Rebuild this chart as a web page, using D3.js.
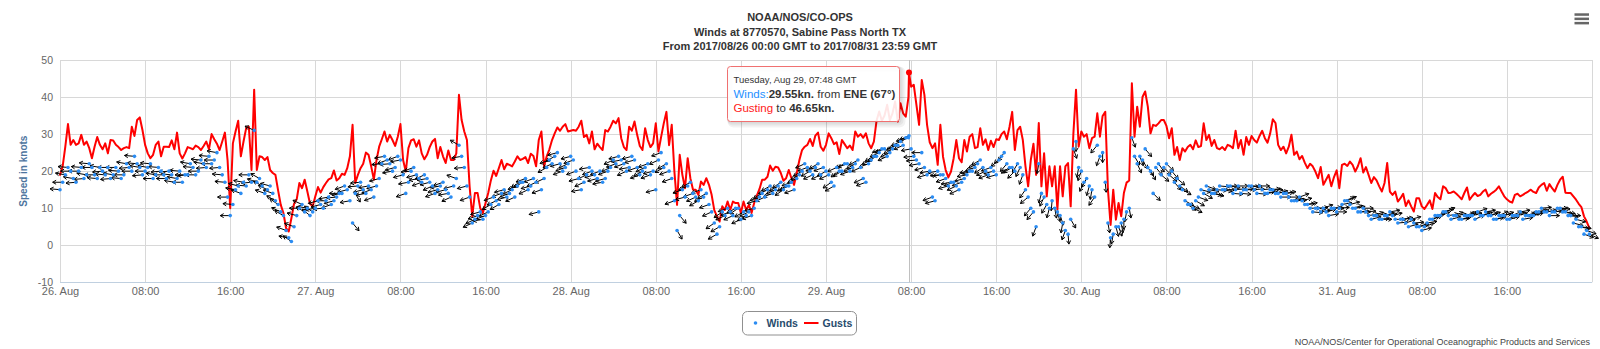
<!DOCTYPE html>
<html>
<head>
<meta charset="utf-8">
<script src="https://cdn.jsdelivr.net/npm/d3@7"></script>
<style>
  html, body { margin: 0; padding: 0; background: #fff; }
  svg { display: block; font-family: "Liberation Sans", Arial, Helvetica, sans-serif; }
</style>
</head>
<body>
<svg id="chart" width="1600" height="349"></svg>
<script>
// ---- chart text ----
const titleLines = [
  "NOAA/NOS/CO-OPS",
  "Winds at 8770570, Sabine Pass North TX",
  "From 2017/08/26 00:00 GMT to 2017/08/31 23:59 GMT"
];
const yAxisTitle = "Speed in knots";
const creditText = "NOAA/NOS/Center for Operational Oceanographic Products and Services";
const legendNames = ["Winds", "Gusts"];
const yTicks = [-10, 0, 10, 20, 30, 40, 50];

// ---- observations from 2017-08-26 00:00 GMT ----
const startTime = Date.UTC(2017, 7, 26, 0, 0);
const endTime = Date.UTC(2017, 8, 1, 0, 0);

// gust speed (knots), every 15 minutes
const gustKnots = [
  19,21.3,26.6,32.7,27.1,28.4,27.1,27.5,29.8,27.1, 28,26.2,23.5,26.6,29.2,27.1,25.9,27.5,24.8,28.4,
  28.3,27.1,26.5,25.7,26.2,26.5,26.2,32,29.5,33.8, 34.5,31.1,27.1,24.8,23.5,24.4,27.1,28,24,26.6,
  26.6,26.5,28.3,25.9,30.4,24.8,23.4,24.8,26.5,26.2, 25.9,26.9,26.5,25.7,26.8,28,25.9,30,28.6,27.4,
  25.7,28,30.4,23,10,27.5,30.7,33.6,24,28, 31.6,32,20.3,42,20.3,24,23.8,23,23.8,20.3,
  19.5,19,14.8,10.9,8.7,4.6,3.7,7.3,11.2,12.4, 16.8,15.4,17.7,14.5,11.2,10.5,13.2,15.7,14.2,15.7,
  16.8,17.8,18.1,20.2,17.5,18.1,19.3,19,20.8,24, 32.5,16.8,19,20.8,22,
  25,24.4,21.3,17.7,23,26.6,28.6,30.7,28,29.8, 28.4,26.8,29.3,32.7,23,19.9,26.2,28.3,28.6,26.6,
  28.3,24.8,23.2,24.4,26.5,28,28.7,23.5,26.5,24, 22.2,25.6,23,23,24.8,40.6,33.8,30.7,28.4,15.9,
  7.8,14.1,14.1,10,8.7,11.4,14.1,17.5,20.1,18.7, 20.8,23,20.5,22,21.7,21.3,22.6,24,23,23.3,
  23.8,22.2,24.7,24.1,21.3,28.4,30.7,21.3,24,25.9, 28.4,30.2,31.8,30.9,32,32.7,30.7,30.9,31.1,30.9,
  32,33.6,29.2,29.8,27.5,30.7,25.9,27.4,26.5,25.7, 31.1,30.7,32,33.6,32.9,34.3,28.9,26.5,25.7,32,
  30.9,33.4,29.8,26.8,25.7,31.6,28.4,26.5,27.5,32.9, 25.3,29.2,32.9,36,27,
  32.5,19.9,10.9,24.4,19,15.4,23.5,18.1,15,15, 13.6,17.2,16.3,18.1,16.3,13.6,9.5,7.8,6.4,10.5,
  9.5,11.8,9.5,11.8,11.4,11.4,8.7,11.8,9.5,10.9, 8.7,11.4,13.4,15.2,17.7,17.7,18.5,21.5,20.1,21.2,
  21,19.5,17.4,18.1,20.3,18.1,16.3,19.5,23,25.7, 26.6,27.1,28.7,26.8,29.6,30.4,26.6,25.5,27.1,30.2,
  28.9,27.3,27.8,24.6,28.4,27.3,26.2,26.9,25.7,30.7, 29.3,30,29,30.2,27.5,26.2,28,33.6,36.1,33.6,
  35,37.9,33.8,35.6,38.8,33.4,38.3,35.6,34.7,40, 42.8,43.3,37.9,32.5,44.6,40.6,32.5,27.8,26.2,27.5,
  21.7,32.5,23.9,20.3,18.3,19.9,23.5,28.4,23.5,22.4, 28.4,25.3,29.3,30,
  26.2,26.5,31.6,27.1,28.6,25.7,28.2,26.5,28.6,28.4, 30,30.7,28.6,32,36,25.7,31.1,32,28.4,21.3,
  15.9,23,27.4,19,33,15.9,24.8,13.2,21.3,15.9, 21.3,9.6,21.3,13.2,21.3,22.2,10.5,30,42,26.6,
  30.7,29.3,30,26.2,28.9,29.3,35.6,29.3,34.9,36, 15,5.5,15,6.9,11.4,7.8,14.1,16.9,17.5,43.7,
  29.3,37.4,32,40,41.5,37.4,30.2,32.5,32.2,32.9, 33.8,33.8,32.2,28.9,31.6,24.4,26.5,23,26.2,25.3,
  26.5,27.1,25.9,28.3,26.5,26.8,32.9,28.4,29.8,26.8, 28.4,26.2,25.9,26.5,25.7,27.1,26.8,26.2,30.9,26.2,
  28.4,24.4,29.2,27.1,29.5,28.4,27.7,29.5,30.9,28.9, 27.7,30.2,34,33,
  27.1,25.7,26.6,24.8,26.6,29.8,24.4,25.3,23.2,24.1, 22.3,20.8,22,21.3,19.9,18.1,21.1,16.3,17.7,19,
  15.9,18.4,20.2,15.4,21.7,22,21.4,22.6,21.7,19.9, 21.4,23.5,19.6,21.1,19,16.8,18.4,17.5,15.9,14.5,
  16.8,22.2,14.5,13.6,14.5,11.8,12.7,13.9,10.6,12.1, 10.5,9.1,12.7,12.7,10.5,9.8,10.9,12.1,9.8,14.1,
  13,12.4,15.9,15.4,14.1,14.2,14.5,13.9,13.2,12.4, 14.1,15.6,12.3,13.3,14.1,13.3,13.6,14.5,15,13.2,
  13.9,14.4,15,15.9,14.5,13.2,12.4,11.8,11.5,13.6, 13.9,13.2,13.6,14.1,14.5,15,14.4,14.1,15.6,16.3,
  16.8,14.7,16.5,15.4,14.5,16.3,17.7,18.5,14.2,14.1, 14.1,13.2,12.3,11.2,10.3,7.8,6.4,4.6
];

// sustained wind (knots) on the hour and half hour
const windKnots = [
  15,19,20,17,21,19,21,18,20,21, 19,20,19,21,24,21,20,22,19,20, 18,19,18,17,19,21,20,22,24,23,
  21,17,8,15,14,16,17,17,16,15, 14,11,8,2,5,10,9,8,10,11, 12,11,13,14,15,6,16,15,
  16,13,18,24,22,21,23,14,20,19, 17,18,16,15,17,14,16,27,21,13, 7,9,8,11,12,14,13,15,16,17,
  15,18,9,18,23,24,22,21,24,20, 15,19,20,18,17,20,23,24,22,21, 23,19,21,19,15,25,22,
  18,4,15,16,14,12,13,11,6,5, 8,9,10,7,8,8,12,14,15,14, 16,15,16,15,19,22,20,21,19,20,
  17,21,20,22,21,23,18,22,24,25, 26,25,27,28,29,26,23,25,19,13, 20,19,16,17,15,18,20,21,
  23,20,21,19,24,22,21,22,19,13, 9,22,13,10,10,8,4,7,28,20, 18,15,27,25,6,3,5,7,10,24,
  24,26,20,21,19,22,20,18,15,11, 10,13,14,15,14,16,15,16,15,14, 15,16,14,15,14,15,14,
  14,13,12,13,11,10,10,9,9,10, 9,11,12,10,9,10,8,8,7,8, 9,7,7,6,7,5,4,6,7,8,
  9,8,8,7,8,8,7,8,9,8, 7,8,7,8,8,7,8,8,9,9, 8,9,10,9,8,7,5,4
];

// sustained wind (knots) at quarter past and quarter to
const windKnotsQuarter = [
  17,21,18,20,18,22,19,21,19,18, 21,18,22,20,22,19,21,18,21,19, 20,17,20,19,22,19,23,21,22,25,
  19,13,11,16,17,19,31,18,14,16, 12,9,4,1,8,11,10,9,12,10, 13,12,14,16,12,14,17,14,
  15,16,22,23,20,24,19,17,21, 18,19,17,14,16,15,13,18,24,16, 6,8,7,9,13,11,15,14,13,17,
  18,16,17,15,21,22,25,20,22,23, 18,17,21,19,20,18,21,22,23,20, 24,21,20,22,20,23,21,
  20,12,8,13,17,13,15,14,9,3, 9,10,8,10,9,9,10,13,13,16, 15,17,16,17,18,20,21,19,22,21,
  19,16,20,22,20,22,21,17,23,24, 26,24,26,27,27,29,24,22,21,20, 12,19,18,17,16,17,19,20,
  22,21,19,20,23,25,21,20,21,15, 10,5,14,11,12,9,6,3,26,21, 17,16,13,24,17,2,5,6,9,29,
  22,23,21,14,22,21,19,17,16,12, 11,12,15,16,14,15,15,16,14,16, 15,16,15,16,14,15,14,
  13,14,12,12,12,11,9,10,10,8, 10,10,12,11,10,9,9,7,8,7, 8,8,6,7,5,6,5,5,7,8,
  8,9,7,8,7,8,8,9,8,8, 7,8,8,7,8,9,8,8,9,10, 9,9,10,9,8,6,5,3,3
];

// direction the wind blows from (degrees true), on the hour and half hour
const windFromDeg = [
  95,100,90,85,95,100,90,95,85,90,100,95,90,85,95,100,90,95,100,85,90,95,100,90,85,95,90,100,95,90,85,95,
  90,100,110,95,85,110,120,115,110,125,120,100,110,90,120,130,
  80,75,90,70,85,80,75,320,85,75,80,70,75,80,85,75,
  80,70,85,75,70,80,65,75,70,80,75,120,85,70,65,75,70,60,65,70,75,65,70,60,65,70,75,65,70,60,75,70,
  75,70,80,65,70,75,80,70,65,75,70,80,75,70,65,70,75,70,60,70,330,70,65,70,60,65,70,55,60,65,70,60,
  65,60,70,75,60,65,70,60,55,65,70,60,65,60,70,65,60,55,65,60,70,65,60,65,70,60,65,70,65,60,65,70,
  80,85,90,75,70,80,85,75,70,65,75,80,70,60,65,70,75,45,40,60,30,20,50,40,10,25,15,350,340,20,330,0,
  20,30,10,40,0,350,10,340,0,350,330,340,320,330,320,310,315,320,310,300,305,295,290,300,280,285,275,270,280,265,275,270,
  270,275,265,260,270,255,265,270,260,250,265,270,275,260,255,265,270,260,245,255,265,270,260,250,265,255,260,270,265,250,255,260,
  255,260,250,245,255,260,250,265,255,250,245,255,260,250,255,260,250,245,255,260,250,255,260,265,270,260,275,280,270,285,280,290
];

// direction the wind blows from (degrees true), at quarter past and quarter to
const windFromDegQuarter = [
  90,95,100,90,85,95,90,100,95,85,90,95,100,90,95,85,100,90,95,90,85,100,95,90,100,90,95,85,90,100,95,90,
  95,105,100,90,115,120,110,105,120,115,110,125,105,115,100,125,
  75,85,80,75,90,70,80,330,85,80,70,75,85,70,80,70,
  75,80,70,80,65,75,70,80,75,65,110,80,75,65,70,80,65,70,60,75,70,65,60,70,75,65,70,60,65,75,70,65,
  70,75,65,80,75,70,75,65,70,80,65,75,70,60,70,75,65,60,70,70,320,75,60,65,70,60,65,60,55,70,65,55,
  60,65,75,70,65,60,65,55,60,70,65,60,70,65,60,70,65,60,55,65,70,60,65,70,65,60,70,65,60,70,65,68,
  85,80,75,80,75,85,70,80,65,70,80,75,65,55,70,75,50,35,55,45,25,35,40,20,15,30,5,345,10,355,340,10,
  25,15,35,20,355,5,345,350,10,340,335,330,325,315,325,315,310,320,305,300,295,300,285,290,280,275,280,270,275,270,265,275,
  265,270,260,265,260,270,260,255,265,255,260,275,265,250,260,270,265,250,255,260,270,265,255,260,270,260,255,265,260,255,265,255,
  250,255,260,250,245,255,260,255,250,255,250,250,255,260,245,250,255,250,260,255,255,260,265,260,265,270,280,275,285,280,290,295
];

// the observation shown in the tooltip
const hoverTime = Date.UTC(2017, 7, 29, 7, 48);
const hoverWind = 29.55;
const hoverGust = 46.65;
const hoverDir = 67;
const hoverCompass = "ENE";

// ---- colours ----
const gustColor = "#ff0000";
const windColor = "#2b8cf2";
const gridColor = "#d8d8d8";

// ---- build the time series (15-minute steps) ----
const obs = gustKnots.map((g, j) => {
  const even = j % 2 === 0, i = even ? j / 2 : (j - 1) / 2;
  return {
    t: new Date(startTime + j * 15 * 60000),
    gust: g,
    wind: even ? windKnots[i] : windKnotsQuarter[i],
    dir: even ? windFromDeg[i] : windFromDegQuarter[i]
  };
});
obs.push({ t: new Date(hoverTime), gust: hoverGust, wind: hoverWind, dir: hoverDir });
obs.sort((a, b) => a.t - b.t);

const svg = d3.select("#chart");
const plot = { left: 60, right: 1592, top: 60, bottom: 282.3 };

const x = d3.scaleUtc().domain([new Date(startTime), new Date(endTime)]).range([plot.left, plot.right]);
const y = d3.scaleLinear().domain([-10, 50]).range([plot.bottom, plot.top]);

// ---- title ----
svg.append("g").selectAll("text").data(titleLines).join("text")
  .attr("x", 800).attr("y", (d, i) => 21 + i * 14.5)
  .attr("text-anchor", "middle")
  .attr("font-size", 11).attr("font-weight", "bold").attr("fill", "#333")
  .text(d => d);

// ---- export menu icon ----
svg.append("g").selectAll("rect").data([0, 1, 2]).join("rect")
  .attr("x", 1574.5).attr("y", d => 13.3 + d * 4.3).attr("width", 14.5).attr("height", 2.5)
  .attr("fill", "#666");

// ---- grid ----
const hourTicks = x.ticks(d3.utcHour.every(8));
const grid = svg.append("g");
grid.selectAll("line.h").data(yTicks).join("line").attr("class", "h")
  .attr("x1", plot.left).attr("x2", plot.right)
  .attr("y1", d => Math.round(y(d)) + 0.5).attr("y2", d => Math.round(y(d)) + 0.5)
  .attr("stroke", gridColor).attr("stroke-width", 1);
grid.selectAll("line.v").data(hourTicks).join("line").attr("class", "v")
  .attr("x1", d => Math.round(x(d)) + 0.5).attr("x2", d => Math.round(x(d)) + 0.5)
  .attr("y1", plot.top).attr("y2", plot.bottom)
  .attr("stroke", gridColor).attr("stroke-width", 1);

// axis line along the bottom
svg.append("line")
  .attr("x1", plot.left).attr("x2", plot.right)
  .attr("y1", Math.round(plot.bottom) + 0.5).attr("y2", Math.round(plot.bottom) + 0.5)
  .attr("stroke", "#C0D0E0").attr("stroke-width", 1);

// ---- axes ----
const fmtDay = d3.utcFormat("%d. %b");
const fmtHour = d3.utcFormat("%H:%M");
const xAxis = d3.axisBottom(x)
  .tickValues(hourTicks.filter(d => +d < endTime))
  .tickSize(0).tickPadding(5)
  .tickFormat(d => d.getUTCHours() === 0 ? fmtDay(d) : fmtHour(d));
const gx = svg.append("g").attr("transform", `translate(0,${plot.bottom})`).call(xAxis);
gx.select(".domain").remove();
gx.selectAll("text").attr("font-size", 11).attr("fill", "#666").attr("font-family", null);

const yAxis = d3.axisLeft(y).tickValues(yTicks).tickSize(0).tickPadding(7).tickFormat(d => String(d));
const gy = svg.append("g").attr("transform", `translate(${plot.left},0)`).call(yAxis);
gy.select(".domain").remove();
gy.selectAll("text").attr("font-size", 10.5).attr("fill", "#666").attr("font-family", null);

svg.append("text")
  .attr("transform", `translate(23,${(plot.top + plot.bottom) / 2}) rotate(-90)`)
  .attr("text-anchor", "middle").attr("dy", "0.35em")
  .attr("font-size", 10).attr("font-weight", "bold").attr("fill", "#4d759e")
  .text(yAxisTitle);

// ---- crosshair at the hovered time ----
svg.append("line")
  .attr("x1", Math.round(x(new Date(hoverTime))) + 0.5).attr("x2", Math.round(x(new Date(hoverTime))) + 0.5)
  .attr("y1", plot.top).attr("y2", plot.bottom)
  .attr("stroke", "#c0c0c0").attr("stroke-width", 1);

// ---- gusts ----
const gustLine = d3.line().x(d => x(d.t)).y(d => y(d.gust));
svg.append("path").datum(obs)
  .attr("d", gustLine)
  .attr("fill", "none").attr("stroke", gustColor)
  .attr("stroke-width", 2).attr("stroke-linejoin", "round").attr("stroke-linecap", "round");

// ---- winds: arrow pointing where the wind goes, dot at the reading ----
const arrowLen = 10, headLen = 4, headAngle = 30 * Math.PI / 180;
function arrowPath(d) {
  const x0 = x(d.t), y0 = y(d.wind);
  const a = (d.dir + 180) * Math.PI / 180;
  const ux = Math.sin(a), uy = -Math.cos(a);
  const x1 = x0 + arrowLen * ux, y1 = y0 + arrowLen * uy;
  const back = Math.atan2(-uy, -ux);
  const hx1 = x1 + headLen * Math.cos(back + headAngle), hy1 = y1 + headLen * Math.sin(back + headAngle);
  const hx2 = x1 + headLen * Math.cos(back - headAngle), hy2 = y1 + headLen * Math.sin(back - headAngle);
  return `M${x0},${y0}L${x1},${y1}M${hx1},${hy1}L${x1},${y1}L${hx2},${hy2}`;
}
const winds = svg.append("g");
winds.selectAll("path").data(obs).join("path")
  .attr("d", arrowPath)
  .attr("fill", "none").attr("stroke", "#000").attr("stroke-width", 1);
winds.selectAll("circle").data(obs).join("circle")
  .attr("cx", d => x(d.t)).attr("cy", d => y(d.wind)).attr("r", 1.8)
  .attr("fill", windColor);

// hovered gust marker
svg.append("circle")
  .attr("cx", x(new Date(hoverTime))).attr("cy", y(hoverGust)).attr("r", 3)
  .attr("fill", gustColor);

// ---- tooltip ----
const tip = svg.append("g").attr("transform", "translate(727.5,66.5)");
[3, 2, 1].forEach(o => {
  tip.append("rect").attr("x", o).attr("y", o).attr("width", 172).attr("height", 55).attr("rx", 3)
    .attr("fill", "none").attr("stroke", "rgba(0,0,0,0.05)").attr("stroke-width", 2 * o);
});
tip.append("rect").attr("width", 172).attr("height", 55).attr("rx", 3)
  .attr("fill", "rgba(255,255,255,0.9)").attr("stroke", "#f07070").attr("stroke-width", 1);
const fmtTip = d3.utcFormat("%A, %b %d, %H:%M GMT");
tip.append("text").attr("x", 6).attr("y", 16).attr("font-size", 9.5).attr("fill", "#333")
  .text(fmtTip(new Date(hoverTime)));
const t2 = tip.append("text").attr("x", 6).attr("y", 31).attr("font-size", 11.5).attr("fill", "#333");
t2.append("tspan").attr("fill", "#1e90ff").text(legendNames[0] + ":");
t2.append("tspan").attr("font-weight", "bold").text(hoverWind.toFixed(2) + "kn.");
t2.append("tspan").text(" from ");
t2.append("tspan").attr("font-weight", "bold").text(`${hoverCompass} (${hoverDir}°)`);
const t3 = tip.append("text").attr("x", 6).attr("y", 45).attr("font-size", 11.5).attr("fill", "#333");
t3.append("tspan").attr("fill", "#ff2020").text("Gusting");
t3.append("tspan").text(" to ");
t3.append("tspan").attr("font-weight", "bold").text(hoverGust.toFixed(2) + "kn.");

// ---- legend ----
const lg = svg.append("g").attr("transform", "translate(742.5,311.5)");
lg.append("rect").attr("width", 114).attr("height", 23.5).attr("rx", 5)
  .attr("fill", "#fff").attr("stroke", "#909090").attr("stroke-width", 1);
lg.append("circle").attr("cx", 13).attr("cy", 11.5).attr("r", 1.8).attr("fill", windColor);
lg.append("text").attr("x", 24).attr("y", 15.5).attr("font-size", 10.5).attr("font-weight", "bold")
  .attr("fill", "#274b6d").text(legendNames[0]);
lg.append("line").attr("x1", 61.5).attr("x2", 76).attr("y1", 11.5).attr("y2", 11.5)
  .attr("stroke", gustColor).attr("stroke-width", 2);
lg.append("text").attr("x", 80).attr("y", 15.5).attr("font-size", 10.5).attr("font-weight", "bold")
  .attr("fill", "#274b6d").text(legendNames[1]);

// ---- credits ----
svg.append("text").attr("x", 1590).attr("y", 345).attr("text-anchor", "end")
  .attr("font-size", 9).attr("fill", "#444").text(creditText);
</script>
</body>
</html>
